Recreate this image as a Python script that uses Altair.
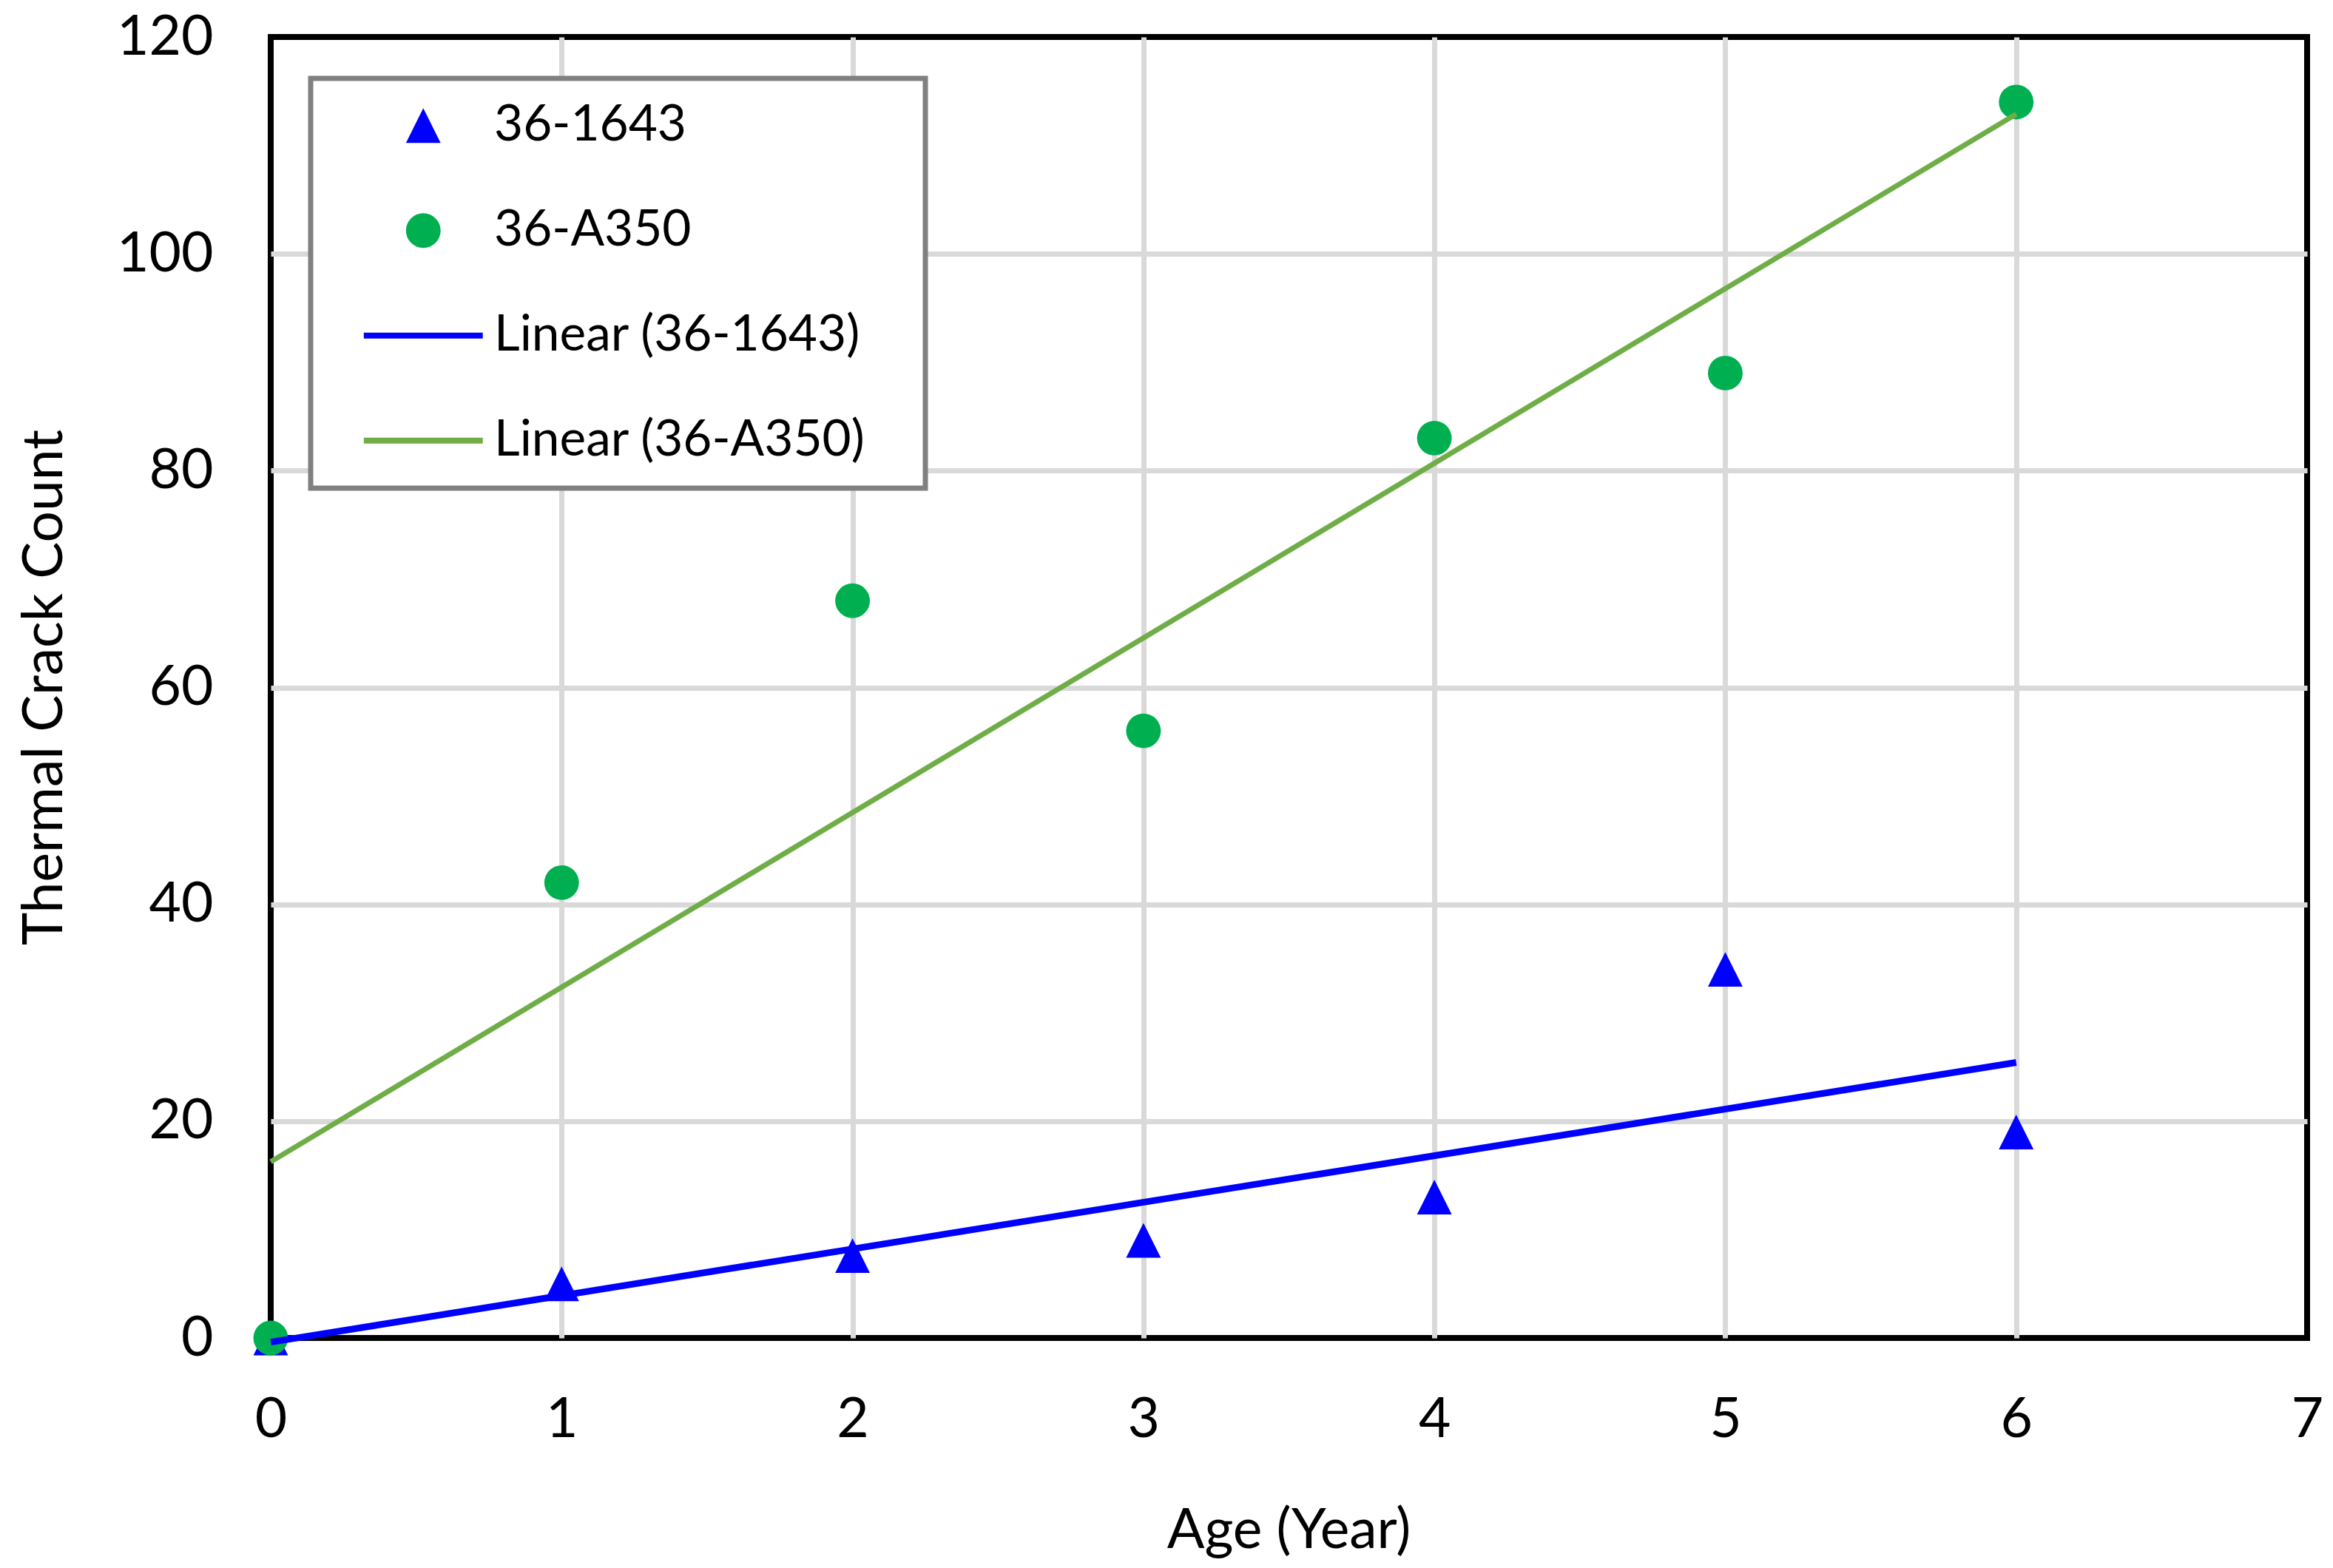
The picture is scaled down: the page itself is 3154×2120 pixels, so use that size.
import altair as alt
import pandas as pd

# ---- data ----
years = [0, 1, 2, 3, 4, 5, 6]
series_names = ["36-1643", "36-A350"]
counts_1643 = [0, 5, 7.6, 9, 13, 34, 19]
counts_a350 = [0, 42, 68, 56, 83, 89, 114]
legend_labels = ["36-1643", "36-A350", "Linear (36-1643)", "Linear (36-A350)"]
x_ticks = [0, 1, 2, 3, 4, 5, 6, 7]
y_ticks = [0, 20, 40, 60, 80, 100, 120]

rows = []
for name, vals in zip(series_names, [counts_1643, counts_a350]):
    for yr, v in zip(years, vals):
        rows.append({"Age": yr, "Count": v, "label": name})
df = pd.DataFrame(rows)

FONT = "Lato"
colors = ["#0000FF", "#00B050", "#0000FF", "#70AD47"]
shapes = ["M0,-1L1,1L-1,1Z", "circle",
          "M-3.43,-0.17H3.43V0.17H-3.43Z", "M-3.43,-0.17H3.43V0.17H-3.43Z"]

cscale = alt.Scale(domain=legend_labels, range=colors)
sscale = alt.Scale(domain=legend_labels, range=shapes)

legend = alt.Legend(
    title=None, orient="none", legendX=54, legendY=56,
    labelFont=FONT, labelFontSize=67.5, labelColor="black", labelLimit=2000,
    labelExpr="datum.label + '\u2800'",
    symbolSize=2200, symbolOffset=88.5, labelOffset=62, rowPadding=73,
    symbolStrokeWidth=0,
)

grid_x = {"condition": {"test": "datum.value == 0 || datum.value == 7", "value": 0}, "value": 1}
grid_y = {"condition": {"test": "datum.value == 0 || datum.value == 120", "value": 0}, "value": 1}

x_enc = alt.X("Age:Q", scale=alt.Scale(domain=[0, 7], nice=False),
              axis=alt.Axis(title="Age (Year)", values=x_ticks, format="d",
                            ticks=False, tickSize=0, domain=False, labelFlush=False,
                            labelPadding=74, labelFontSize=75, labelFont=FONT, labelColor="black",
                            titleFont=FONT, titleFontSize=75, titleFontWeight="normal", titleColor="black",
                            titleX=1376, titleY=260, titleBaseline="middle",
                            grid=True, gridColor="#D9D9D9", gridWidth=7, gridOpacity=grid_x))
y_enc = alt.Y("Count:Q", scale=alt.Scale(domain=[0, 120], nice=False),
              axis=alt.Axis(title="Thermal Crack Count", values=y_ticks, format="d",
                            ticks=False, tickSize=0, domain=False, labelFlush=False,
                            labelPadding=78, labelFontSize=75, labelFont=FONT, labelColor="black",
                            titleFont=FONT, titleFontSize=75, titleFontWeight="normal", titleColor="black",
                            titleX=-306, titleY=879, titleBaseline="middle",
                            grid=True, gridColor="#D9D9D9", gridWidth=7, gridOpacity=grid_y))

points = alt.Chart(df).mark_point(filled=True, size=2200, opacity=1, strokeWidth=0).encode(
    x=x_enc, y=y_enc,
    color=alt.Color("label:N", scale=cscale, legend=legend),
    shape=alt.Shape("label:N", scale=sscale, legend=legend),
)

lines = alt.Chart(df).transform_regression(
    "Age", "Count", groupby=["label"], method="linear"
).transform_calculate(
    label="'Linear (' + datum.label + ')'"
).mark_line().encode(
    x=x_enc, y=y_enc,
    color=alt.Color("label:N", scale=cscale, legend=legend),
    strokeWidth=alt.StrokeWidth("label:N",
                                scale=alt.Scale(domain=["Linear (36-1643)", "Linear (36-A350)"], range=[9, 7]),
                                legend=None),
)

chart = alt.layer(points, lines).properties(
    width=2753, height=1759,
    autosize=alt.AutoSizeParams(type="none"),
    padding={"left": 358, "top": 42, "right": 27, "bottom": 303},
    background="white",
).configure_view(
    stroke="black", strokeWidth=8
).configure_legend(
    padding=30, strokeColor="#808080", strokeWidth=7, fillColor="white"
)

chart.save("out.html", embed_options={"renderer": "svg", "actions": False})
